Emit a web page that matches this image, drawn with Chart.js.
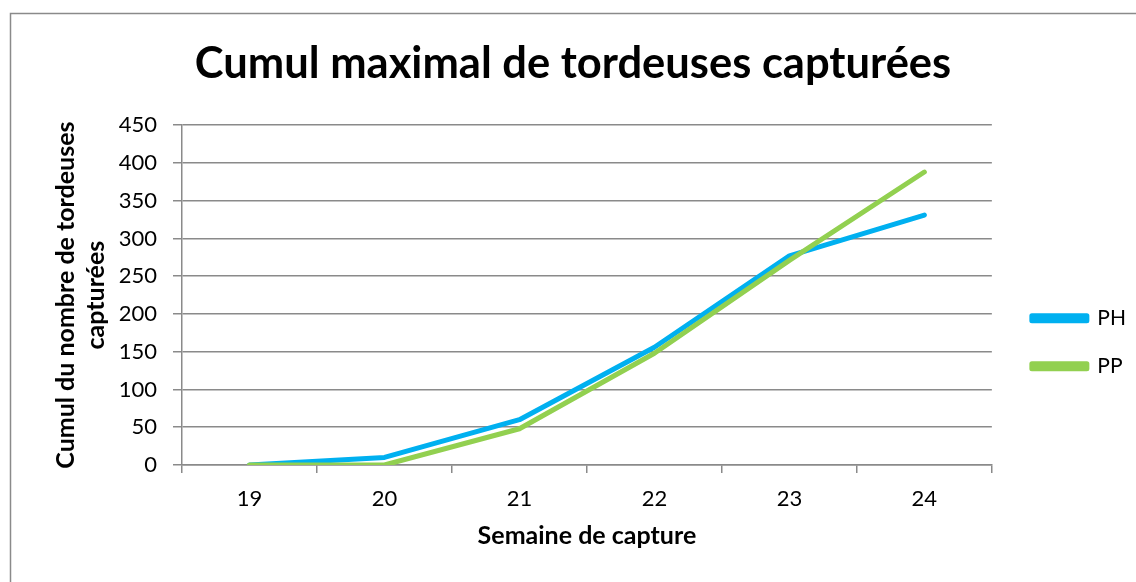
<!DOCTYPE html>
<html>
<head>
<meta charset="utf-8">
<script src="https://cdn.jsdelivr.net/npm/chart.js@4.4.1/dist/chart.umd.min.js"></script>
<style>
  html, body { margin: 0; padding: 0; background: #fff; }
  #wrap { width: 1136px; height: 582px; }
</style>
</head>
<body>
<div id="wrap"><canvas id="chart"></canvas></div>
<script>
// données
const semaines = ["19", "20", "21", "22", "23", "24"];
const cumulPH = [0, 10, 60, 156, 277, 331];
const cumulPP = [0, 0, 48, 148, 271, 388];

const FONT = "Lato, 'Open Sans', sans-serif";
const GRID = "#8a8a8a";

// cadre du graphique (bords gauche et haut visibles)
const framePlugin = {
  id: "frame",
  beforeDraw(chart) {
    const ctx = chart.ctx;
    ctx.save();
    ctx.fillStyle = "#fff";
    ctx.fillRect(0, 0, chart.width, chart.height);
    ctx.strokeStyle = "#8a8a8a";
    ctx.lineWidth = 1.5;
    ctx.beginPath();
    ctx.moveTo(10.5, chart.height + 5);
    ctx.lineTo(10.5, 13.5);
    ctx.lineTo(chart.width + 5, 13.5);
    ctx.stroke();
    ctx.restore();
  }
};

new Chart(document.getElementById("chart"), {
  type: "line",
  data: {
    labels: semaines,
    datasets: [
      {
        label: "PH",
        data: cumulPH,
        borderColor: "#00b0f0",
        backgroundColor: "#00b0f0",
        borderWidth: 5,
        pointRadius: 0,
        tension: 0,
        order: 1
      },
      {
        label: "PP",
        data: cumulPP,
        borderColor: "#92d050",
        backgroundColor: "#92d050",
        borderWidth: 5,
        pointRadius: 0,
        tension: 0,
        order: 0
      }
    ]
  },
  options: {
    responsive: true,
    maintainAspectRatio: false,
    animation: false,
    elements: {
      line: { borderCapStyle: "round", borderJoinStyle: "round" }
    },
    layout: {
      padding: { left: 10, right: 0, top: 0, bottom: 0 }
    },
    plugins: {
      title: {
        display: true,
        text: "Cumul maximal de tordeuses capturées",
        color: "#000",
        font: { family: FONT, size: 43.5, weight: "bold" },
        padding: { top: 38, bottom: 35 }
      },
      legend: {
        position: "right",
        align: "center",
        fullSize: false,
        title: {
          display: true,
          text: " ",
          font: { size: 12 },
          padding: 40
        },
        labels: {
          color: "#000",
          font: { family: FONT, size: 21 },
          boxWidth: 55,
          boxHeight: 5,
          padding: 27,
          sort: (a, b) => a.datasetIndex - b.datasetIndex
        }
      },
      tooltip: { enabled: false }
    },
    scales: {
      x: {
        offset: true,
        afterFit: (s) => { s.height = 117; },
        grid: {
          offset: true,
          drawOnChartArea: false,
          drawTicks: true,
          tickLength: 8,
          color: GRID,
          lineWidth: 1.5
        },
        border: { color: GRID, width: 1.5 },
        ticks: {
          color: "#000",
          font: { family: FONT, size: 22 },
          padding: 13
        },
        title: {
          display: true,
          text: "Semaine de capture",
          color: "#000",
          font: { family: FONT, size: 25, weight: "bold" },
          padding: { top: 0, bottom: 31 }
        }
      },
      y: {
        min: 0,
        max: 450,
        afterFit: (s) => { s.width = 172; },
        ticks: {
          stepSize: 50,
          color: "#000",
          font: { family: FONT, size: 22 },
          padding: 16
        },
        grid: {
          color: GRID,
          lineWidth: 1.5,
          tickLength: 9
        },
        border: { color: GRID, width: 1.5 },
        title: {
          display: true,
          text: ["Cumul du nombre de tordeuses", "capturées"],
          color: "#000",
          font: { family: FONT, size: 25, weight: "bold", lineHeight: 1.2 },
          padding: { top: 41, bottom: 0 }
        }
      },
      // axe vide à droite : écart entre la zone de tracé et la légende
      y2: {
        position: "right",
        display: true,
        afterFit: (s) => { s.width = 13; },
        grid: { display: false },
        border: { display: false },
        ticks: { display: false }
      }
    }
  },
  plugins: [framePlugin]
});
</script>
</body>
</html>
